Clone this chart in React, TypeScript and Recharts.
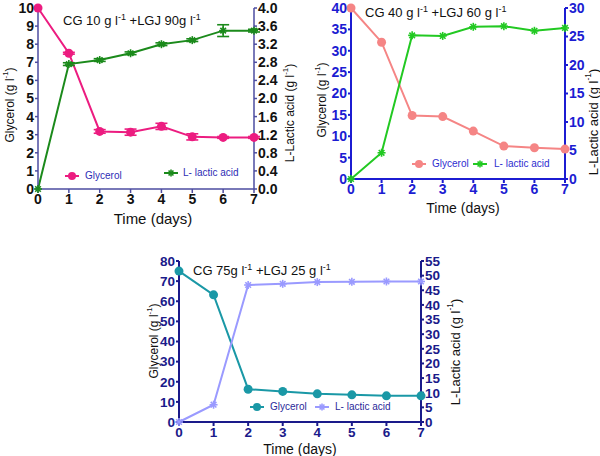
import { LineChart, Line, XAxis, YAxis, ErrorBar, Legend } from "recharts";

const FONT = '"Liberation Sans", Arial, Helvetica, sans-serif';

const days = [0, 1, 2, 3, 4, 5, 6, 7];

// CG 10 g/l + LGJ 90 g/l
const glycerolA = [10, 7.5, 3.18, 3.14, 3.46, 2.88, 2.85, 2.85];
const glycerolAErr = [0, 0.05, 0.1, 0.17, 0.17, 0.17, 0.05, 0.05];
const lacticA = [0, 2.76, 2.85, 3.0, 3.2, 3.29, 3.5, 3.5];
const lacticAErr = [0, 0.03, 0.03, 0.03, 0.03, 0.03, 0.13, 0.03];
const glycerolATicks = [0, 1, 2, 3, 4, 5, 6, 7, 8, 9, 10];
const lacticATicks = [0, 0.4, 0.8, 1.2, 1.6, 2.0, 2.4, 2.8, 3.2, 3.6, 4.0];

// CG 40 g/l + LGJ 60 g/l
const glycerolB = [40, 32, 14.85, 14.6, 11.2, 7.7, 7.3, 7.0];
const lacticB = [0, 4.6, 25.2, 25.1, 26.7, 26.8, 26.0, 26.5];
const glycerolBTicks = [0, 5, 10, 15, 20, 25, 30, 35, 40];
const lacticBTicks = [0, 5, 10, 15, 20, 25, 30];

// CG 75 g/l + LGJ 25 g/l
const glycerolC = [75, 63.2, 16.3, 15.2, 14.0, 13.5, 13.0, 13.0];
const lacticC = [0, 5.9, 46.8, 47.2, 47.8, 47.9, 48.0, 48.0];
const glycerolCTicks = [0, 10, 20, 30, 40, 50, 60, 70, 80];
const lacticCTicks = [0, 5, 10, 15, 20, 25, 30, 35, 40, 45, 50, 55];

function rows(g: number[], l: number[], gErr?: number[], lErr?: number[]) {
  return days.map((d, i) => ({
    day: d,
    glycerol: g[i],
    lactic: l[i],
    gErr: gErr ? gErr[i] : 0,
    lErr: lErr ? lErr[i] : 0,
  }));
}

const sup = (
  <tspan baselineShift="super" fontSize="65%">
    -1
  </tspan>
);

function Star({ cx, cy, color, r = 4 }: { cx: number; cy: number; color: string; r?: number }) {
  const d = r * 0.7;
  return (
    <g stroke={color} strokeWidth={1.6}>
      <line x1={cx - r} y1={cy} x2={cx + r} y2={cy} />
      <line x1={cx} y1={cy - r} x2={cx} y2={cy + r} />
      <line x1={cx - d} y1={cy - d} x2={cx + d} y2={cy + d} />
      <line x1={cx - d} y1={cy + d} x2={cx + d} y2={cy - d} />
    </g>
  );
}

type Spot = { marker: number; text: number; y: number };

interface PanelCfg {
  box: { x: number; y: number; w: number; h: number };
  top: number;
  leftW: number;
  rightW: number;
  xH: number;
  data: ReturnType<typeof rows>;
  errors?: boolean;
  gColor: string;
  lColor: string;
  axis: string;
  axisW: number;
  tickColor: string;
  tickSize: number;
  legendColor: string;
  gTicks: number[];
  lTicks: number[];
  lFixed?: number;
  xLabel: { dx: number; dy: number; size: number };
  leftLabel: { x: number; y: number; size: number };
  rightLabel: { x: number; y: number; size: number };
  title: { x: number; y: number; parts: string[] };
  legend: Spot[];
}

function Panel({ c }: { c: PanelCfg }) {
  const plotL = c.leftW;
  const plotR = c.box.w - c.rightW;
  const plotB = c.box.h - c.xH;
  const tick = { fill: c.tickColor, fontSize: c.tickSize, fontWeight: "bold", fontFamily: FONT };

  const rot = (x: number, y: number, size: number, parts: React.ReactNode) => (
    <text
      x={x}
      y={y}
      transform={`rotate(-90 ${x} ${y})`}
      textAnchor="middle"
      dominantBaseline="central"
      fontSize={size}
      fontFamily={FONT}
      fill="#111"
    >
      {parts}
    </text>
  );

  const legendContent = () => (
    <div style={{ position: "relative", width: c.box.w, height: 0 }}>
      {[
        { name: "Glycerol", color: c.gColor, star: false },
        { name: "L- lactic acid", color: c.lColor, star: true },
      ].map((it, i) => {
        const s = c.legend[i];
        return (
          <div key={it.name}>
            <svg width={20} height={12} style={{ position: "absolute", left: s.marker - 10, top: s.y - 6 }}>
              <line x1={3} y1={6} x2={17} y2={6} stroke={it.color} strokeWidth={2} />
              {it.star ? <Star cx={10} cy={6} color={it.color} r={3.5} /> : <circle cx={10} cy={6} r={4} fill={it.color} />}
            </svg>
            <span
              style={{
                position: "absolute",
                left: s.text,
                top: s.y - 7,
                fontSize: 10,
                lineHeight: "14px",
                fontFamily: FONT,
                color: c.legendColor,
                whiteSpace: "nowrap",
              }}
            >
              {it.name}
            </span>
          </div>
        );
      })}
    </div>
  );

  return (
    <div style={{ position: "absolute", left: c.box.x, top: c.box.y, width: c.box.w, height: c.box.h }}>
      <LineChart
        width={c.box.w}
        height={c.box.h}
        data={c.data}
        margin={{ top: c.top, right: 0, bottom: 0, left: 0 }}
      >
        <XAxis
          dataKey="day"
          type="number"
          domain={[0, 7]}
          ticks={days}
          interval={0}
          height={c.xH}
          stroke={c.axis}
          strokeWidth={c.axisW}
          tickSize={4}
          tickMargin={1}
          tick={tick}
          label={() => (
            <text
              x={(plotL + plotR) / 2 + c.xLabel.dx}
              y={plotB + c.xLabel.dy}
              textAnchor="middle"
              dominantBaseline="central"
              fontSize={c.xLabel.size}
              fontFamily={FONT}
              fill="#111"
            >
              Time (days)
            </text>
          )}
        />
        <YAxis
          yAxisId="g"
          domain={[c.gTicks[0], c.gTicks[c.gTicks.length - 1]]}
          ticks={c.gTicks}
          interval={0}
          width={c.leftW}
          stroke={c.axis}
          strokeWidth={c.axisW}
          tickSize={3}
          tickMargin={1}
          tick={tick}
          label={() => rot(c.leftLabel.x, c.leftLabel.y, c.leftLabel.size, <>Glycerol (g l{sup})</>)}
        />
        <YAxis
          yAxisId="l"
          orientation="right"
          domain={[c.lTicks[0], c.lTicks[c.lTicks.length - 1]]}
          ticks={c.lTicks}
          interval={0}
          width={c.rightW}
          stroke={c.axis}
          strokeWidth={c.axisW}
          tickSize={3}
          tickMargin={1}
          tick={tick}
          tickFormatter={(v: number) => (c.lFixed !== undefined ? v.toFixed(c.lFixed) : String(v))}
          label={() => rot(c.rightLabel.x, c.rightLabel.y, c.rightLabel.size, <>L-Lactic acid (g l{sup})</>)}
        />
        <Line
          yAxisId="g"
          dataKey="glycerol"
          name="Glycerol"
          stroke={c.gColor}
          strokeWidth={2}
          isAnimationActive={false}
          activeDot={false}
          dot={(p: any) => <circle key={`g${p.index}`} cx={p.cx} cy={p.cy} r={4.5} fill={c.gColor} />}
        >
          {c.errors && <ErrorBar dataKey="gErr" width={6} strokeWidth={1.6} stroke={c.gColor} direction="y" />}
        </Line>
        <Line
          yAxisId="l"
          dataKey="lactic"
          name="L- lactic acid"
          stroke={c.lColor}
          strokeWidth={2}
          isAnimationActive={false}
          activeDot={false}
          dot={(p: any) => <Star key={`l${p.index}`} cx={p.cx} cy={p.cy} color={c.lColor} />}
        >
          {c.errors && <ErrorBar dataKey="lErr" width={6} strokeWidth={1.6} stroke={c.lColor} direction="y" />}
        </Line>
        <Legend
          layout="horizontal"
          verticalAlign="middle"
          align="center"
          wrapperStyle={{ left: 0, top: 0, width: c.box.w, height: 0 }}
          content={legendContent}
        />
      </LineChart>
      <div
        style={{
          position: "absolute",
          left: c.title.x,
          top: c.title.y,
          fontSize: 13,
          lineHeight: "15px",
          fontFamily: FONT,
          color: "#111",
          whiteSpace: "nowrap",
        }}
      >
        {c.title.parts[0]}
        <sup style={{ fontSize: 9, lineHeight: 0 }}>-1</sup>
        {c.title.parts[1]}
        <sup style={{ fontSize: 9, lineHeight: 0 }}>-1</sup>
      </div>
    </div>
  );
}

const panelA: PanelCfg = {
  box: { x: 0, y: 0, w: 300, h: 230 },
  top: 8,
  leftW: 38,
  rightW: 46,
  xH: 41,
  data: rows(glycerolA, lacticA, glycerolAErr, lacticAErr),
  errors: true,
  gColor: "#ec1c80",
  lColor: "#1b8a1b",
  axis: "#4d4da0",
  axisW: 1.5,
  tickColor: "#111",
  tickSize: 14,
  legendColor: "#2d2db5",
  gTicks: glycerolATicks,
  lTicks: lacticATicks,
  lFixed: 1,
  xLabel: { dx: 7, dy: 29, size: 15 },
  leftLabel: { x: 10, y: 105, size: 12 },
  rightLabel: { x: 290, y: 113, size: 12 },
  title: { x: 63, y: 13, parts: ["CG 10 g l", " +LGJ 90g l"] },
  legend: [
    { marker: 72, text: 85, y: 176 },
    { marker: 171, text: 183, y: 173 },
  ],
};

const panelB: PanelCfg = {
  box: { x: 300, y: 0, w: 300, h: 230 },
  top: 8,
  leftW: 51,
  rightW: 35,
  xH: 51,
  data: rows(glycerolB, lacticB),
  gColor: "#f58585",
  lColor: "#22c922",
  axis: "#1c1cd2",
  axisW: 2,
  tickColor: "#1c1cd2",
  tickSize: 14,
  legendColor: "#2d2dd0",
  gTicks: glycerolBTicks,
  lTicks: lacticBTicks,
  xLabel: { dx: 5, dy: 29, size: 14 },
  leftLabel: { x: 22, y: 100, size: 12 },
  rightLabel: { x: 293, y: 122, size: 13 },
  title: { x: 65, y: 5, parts: ["CG 40 g l", " +LGJ 60 g l"] },
  legend: [
    { marker: 119, text: 132, y: 164 },
    { marker: 180, text: 194, y: 164 },
  ],
};

const panelC: PanelCfg = {
  box: { x: 140, y: 230, w: 330, h: 226 },
  top: 31,
  leftW: 39,
  rightW: 49,
  xH: 34,
  data: rows(glycerolC, lacticC),
  gColor: "#1a98a6",
  lColor: "#9a9aff",
  axis: "#1a1a8a",
  axisW: 2,
  tickColor: "#1a1a8a",
  tickSize: 13.5,
  legendColor: "#2a2a9a",
  gTicks: glycerolCTicks,
  lTicks: lacticCTicks,
  xLabel: { dx: 0, dy: 27, size: 14 },
  leftLabel: { x: 14, y: 111, size: 12 },
  rightLabel: { x: 315, y: 122, size: 13 },
  title: { x: 53, y: 33, parts: ["CG 75g l", " +LGJ 25 g l"] },
  legend: [
    { marker: 117, text: 130, y: 177 },
    { marker: 182, text: 195, y: 177 },
  ],
};

export default function App() {
  return (
    <div style={{ position: "absolute", left: 0, top: 0, width: 600, height: 456, background: "#fff" }}>
      <Panel c={panelA} />
      <Panel c={panelB} />
      <Panel c={panelC} />
    </div>
  );
}
